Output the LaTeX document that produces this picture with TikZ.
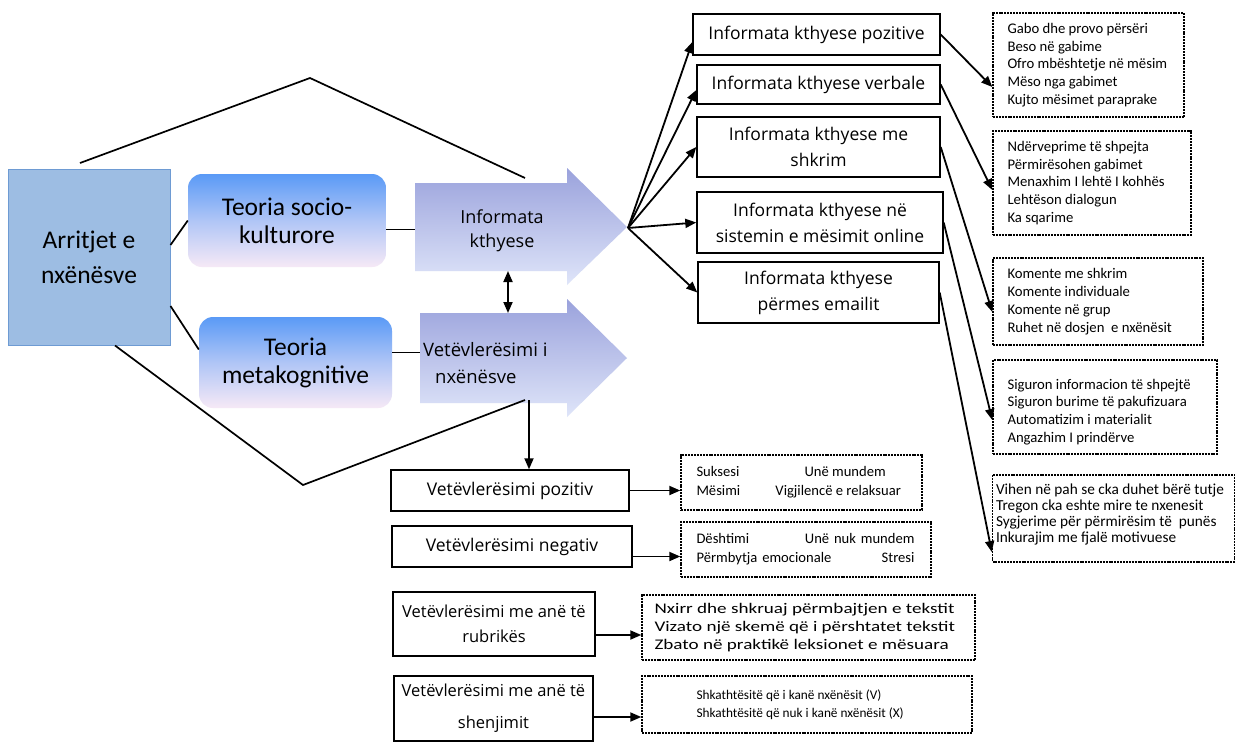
\documentclass[tikz,border=0pt]{standalone}
\usepackage{fontspec}
\setmainfont{Carlito}
\newfontfamily\bfnt{Open Sans}
\newfontfamily\wfnt[FakeStretch=1.3]{Carlito}
\usetikzlibrary{arrows.meta,calc}
\definecolor{arrfill}{HTML}{9DBDE3}
\definecolor{arrbord}{HTML}{6E9BD3}
\definecolor{ttop}{HTML}{5A9AF6}
\definecolor{tbot}{HTML}{F6E9F6}
\definecolor{atop}{HTML}{9AA2DC}
\definecolor{abot}{HTML}{DFE5F9}
\begin{document}
\begin{tikzpicture}[x=1pt,y=-1pt,
 box/.style={draw,line width=1.4pt,font=\bfnt\fontsize{17.5}{26}\selectfont,align=center,inner sep=0pt},
 dbox/.style={draw,line width=1.4pt,dash pattern=on 2pt off 0.9pt,inner sep=0pt},
 dtext/.style={anchor=west,align=left,inner sep=0pt,font=\fontsize{14.7}{17.8}\selectfont},
 tbox/.style={rounded corners=14pt,top color=ttop,bottom color=tbot,middle color=ttop!45!tbot,font=\fontsize{25.5}{28}\selectfont,align=center,inner sep=0pt},
 tip/.style={Triangle[length=11pt,width=9pt]},
 con/.style={line width=1.8pt,-{Triangle[length=11pt,width=9pt]}},
 ln/.style={line width=1.7pt},
]
\useasboundingbox (0,0) rectangle (1236,742);
\fill[white] (0,0) rectangle (1236,742);

% left box and theories
\node[fill=arrfill,draw=arrbord,line width=1pt,minimum width=162pt,minimum height=176pt,inner sep=0pt,
      font=\fontsize{25.5}{35}\selectfont,align=center] (arr) at (89,257) {Arritjet e\\nxënësve};
\node[tbox,minimum width=198pt,minimum height=93pt] (soc) at (287,220.5) {Teoria socio-\\kulturore};
\node[tbox,minimum width=193pt,minimum height=91pt] (meta) at (295.5,362.5) {Teoria\\metakognitive};

% big arrows
\shade[top color=atop,bottom color=abot] (415,183) -- (567,183) -- (567,168) -- (627,227) -- (567,285) -- (567,271) -- (415,271) -- cycle;
\shade[top color=atop,bottom color=abot] (420,313) -- (567,313) -- (567,299) -- (627,358) -- (567,417) -- (567,403) -- (420,403) -- cycle;
\node[font=\bfnt\fontsize{18}{24}\selectfont,align=center] (inf) at (502,231) {Informata\\kthyese};
\node[font=\bfnt\fontsize{18.5}{27}\selectfont,align=left,anchor=west,inner sep=0pt] (vet) at (423,363.5) {Vetëvlerësimi i\\\hspace*{12pt}nxënësve};

\coordinate (infL) at (415,229.5);
\coordinate (vetL) at (420,352.5);
\coordinate (infB) at (508,271);
\coordinate (vetT) at (508,313);
\coordinate (fan) at (628,228);
\coordinate (t1) at (80,163);
\coordinate (t2) at (310,78);
\coordinate (t3) at (525,178);
\coordinate (u2) at (303,485);
\coordinate (u3) at (525,400);
\coordinate (vtop) at (529,400);

% feedback boxes
\node[box,minimum width=247pt,minimum height=41pt] (b1) at (816.5,34.5) {Informata kthyese pozitive};
\node[box,minimum width=243pt,minimum height=39pt] (b2) at (818.5,84.5) {Informata kthyese verbale};
\node[box,minimum width=243pt,minimum height=60pt] (b3) at (818.5,147) {Informata kthyese me\\shkrim};
\node[box,minimum width=246pt,minimum height=61pt] (b4) at (820,222.5) {Informata kthyese në\\sistemin e mësimit online};
\node[box,minimum width=241pt,minimum height=61pt] (b5) at (818.5,292.5) {Informata kthyese\\përmes emailit};

% dashed lists
\node[dbox,minimum width=191pt,minimum height=104pt] (d1) at (1088.5,65) {};
\node[dtext] (d1t) at ([xshift=15pt]d1.west)
 {Gabo dhe provo përsëri\\Beso në gabime\\Ofro mbështetje në mësim\\Mëso nga gabimet\\Kujto mësimet paraprake};
\node[dbox,minimum width=198pt,minimum height=104pt] (d2) at (1092,183) {};
\node[dtext] (d2t) at ([xshift=15pt]d2.west)
 {Ndërveprime të shpejta\\Përmirësohen gabimet\\Menaxhim I lehtë I kohhës\\Lehtëson dialogun\\Ka sqarime};
\node[dbox,minimum width=210pt,minimum height=87pt] (d3) at (1098,301.5) {};
\node[dtext] (d3t) at ([xshift=15pt]d3.west)
 {Komente me shkrim\\Komente individuale\\Komente në grup\\Ruhet në dosjen\ \ e nxënësit};
\node[dbox,minimum width=224pt,minimum height=94pt] (d4) at (1105,407) {};
\node[dtext] (d4t) at ([xshift=15pt,yshift=-5pt]d4.west)
 {Siguron informacion të shpejtë\\Siguron burime të pakufizuara\\Automatizim i materialit\\Angazhim I prindërve};
\node[dbox,minimum width=242pt,minimum height=87pt] (d5) at (1113.5,518.5) {};
\node[dtext,font=\fontsize{15.3}{16}\selectfont] (d5t) at ([xshift=4pt,yshift=4pt]d5.west)
 {Vihen në pah se cka duhet bërë tutje\\Tregon cka eshte mire te nxenesit\\Sygjerime për përmirësim të\ \ punës\\Inkurajim me fjalë motivuese};

% self-assessment boxes
\node[box,minimum width=238pt,minimum height=41pt] (poz) at (510,490.5) {Vetëvlerësimi pozitiv};
\node[box,minimum width=240pt,minimum height=41pt] (neg) at (512,546.5) {Vetëvlerësimi negativ};
\node[box,minimum width=202pt,minimum height=64pt,font=\bfnt\fontsize{16.5}{25}\selectfont] (rub) at (494,624) {Vetëvlerësimi me anë të\\rubrikës};
\node[box,minimum width=199pt,minimum height=65pt,font=\bfnt\fontsize{16.5}{32}\selectfont] (shen) at (493.5,708.5) {Vetëvlerësimi me anë të\\shenjimit};

\node[dbox,minimum width=241pt,minimum height=55pt] (dpos) at (801.5,482.5) {};
\node[dtext,font=\fontsize{14.6}{19}\selectfont] (dpost) at ([xshift=16pt]dpos.west)
 {\makebox[108pt][l]{Suksesi}Unë mundem\\\makebox[79pt][l]{Mësimi}Vigjilencë e relaksuar};
\node[dbox,minimum width=250pt,minimum height=55pt] (dneg) at (806,549.5) {};
\node[dtext,font=\fontsize{14.6}{19}\selectfont,text width=218pt] (dnegt) at ([xshift=16pt]dneg.west)
 {Dështimi\hfill Unë nuk mundem\\Përmbytja emocionale\hfill Stresi};
\node[dbox,minimum width=333pt,minimum height=65pt] (drub) at (808.5,627.5) {};
\node[dtext,font=\wfnt\fontsize{14.7}{18}\selectfont] (drubt) at ([xshift=13pt]drub.west)
 {Nxirr dhe shkruaj përmbajtjen e tekstit\\Vizato një skemë që i përshtatet tekstit\\Zbato në praktikë leksionet e mësuara};
\node[dbox,minimum width=330pt,minimum height=57pt] (dshen) at (807,704.5) {};
\node[dtext,font=\fontsize{13.3}{18}\selectfont] (dshent) at ([xshift=55pt]dshen.west)
 {Shkathtësitë që i kanë nxënësit (V)\\Shkathtësitë që nuk i kanë nxënësit (X)};

% plain lines
\draw[ln] (t1) -- (t2) -- (t3);
\draw[ln] ([xshift=26pt]arr.south) -- (u2) -- (u3);
\draw[ln] ([yshift=12pt]arr.east) -- (soc.west);
\draw[ln] ([yshift=-49pt]arr.east) -- ([yshift=13pt]meta.west);
\draw[ln] ([yshift=-9pt]soc.east) -- (infL);
\draw[ln] ([yshift=10pt]meta.east) -- (vetL);

% arrows
\draw[line width=1.8pt,{Triangle[length=11pt,width=9pt]}-{Triangle[length=11pt,width=9pt]}] (infB) -- (vetT);
\draw[con] (fan) -- ([yshift=-7.5pt]b1.west);
\draw[con] (fan) -- ([yshift=-5.5pt]b2.west);
\draw[con] (fan) -- (b3.west);
\draw[con] (fan) -- (b4.west);
\draw[con] (fan) -- (b5.west);
\draw[con] (b1.east) -- ([yshift=-22pt]d1.west);
\draw[con] (b2.east) -- ([yshift=-7pt]d2.west);
\draw[con] (b3.east) -- ([yshift=-10.5pt]d3.west);
\draw[con] (b4.east) -- ([yshift=-13pt]d4.west);
\draw[con] (b5.east) -- ([yshift=-33.5pt]d5.west);
\draw[con] (vtop) -- ([xshift=19pt]poz.north);
\draw[con] (poz.east) -- (poz.east -| dpos.west);
\draw[con] ([yshift=-10pt]neg.east) -- ([yshift=-10pt]neg.east -| dneg.west);
\draw[con] ([yshift=-11pt]rub.east) -- ([yshift=-11pt]rub.east -| drub.west);
\draw[con] ([yshift=-8.5pt]shen.east) -- ([yshift=-8.5pt]shen.east -| dshen.west);
\end{tikzpicture}
\end{document}
